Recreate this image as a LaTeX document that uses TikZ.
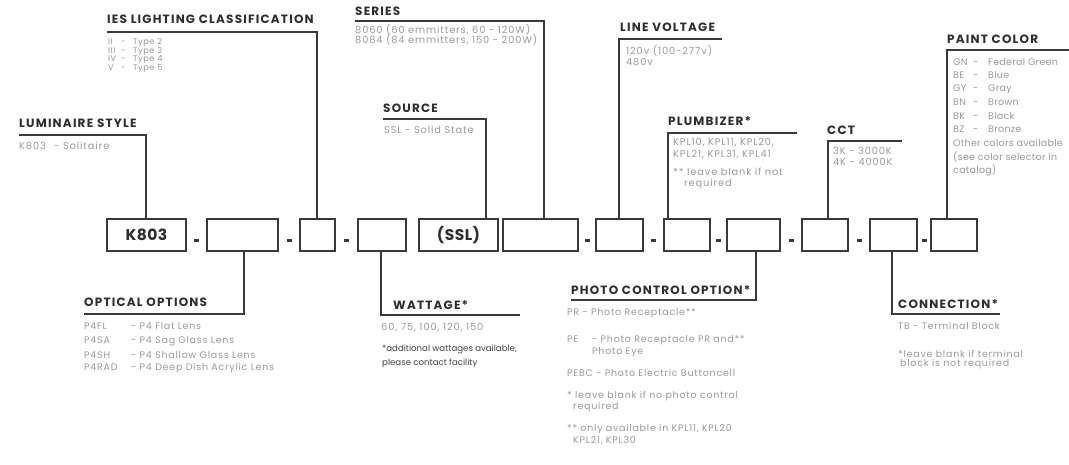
\documentclass[tikz,border=0pt]{standalone}
\usepackage{fontspec}
\setmainfont{Poppins}
\definecolor{tc}{HTML}{2E2E2E}
\definecolor{bc}{HTML}{9A9A9A}
\definecolor{fc}{HTML}{444444}
\definecolor{lc}{HTML}{3A3A3A}
\newcommand{\cd}[3]{\makebox[#1][l]{#2}#3}
\begin{document}
\begin{tikzpicture}[x=1pt,y=-1pt,
  ttl/.style={font=\fontsize{12}{14}\selectfont\bfseries\addfontfeatures{LetterSpace=10}, text=tc, anchor=west, inner sep=0},
  txt/.style={font=\fontsize{9.8}{11}\selectfont\addfontfeatures{LetterSpace=9}, text=bc, anchor=west, inner sep=0},
  txtp/.style={font=\fontsize{9.5}{11}\selectfont\addfontfeatures{LetterSpace=3}, text=bc, anchor=west, inner sep=0},
  txtb/.style={font=\fontsize{9.5}{10}\selectfont\addfontfeatures{LetterSpace=8}, text=bc, anchor=west, inner sep=0},
  txts/.style={font=\fontsize{8.3}{9}\selectfont\addfontfeatures{LetterSpace=6}, text=bc, anchor=west, inner sep=0},
  fnote/.style={font=\fontsize{8.6}{10}\selectfont, text=fc, anchor=west, inner sep=0},
  cell/.style={draw=lc, line width=1.3pt, minimum height=32pt, inner sep=0, font=\fontsize{15.5}{17}\selectfont\bfseries\addfontfeatures{LetterSpace=3}, text=tc},
  ln/.style={draw=lc, line width=1.2pt},
  dsh/.style={fill=lc, minimum width=5pt, minimum height=3pt, inner sep=0}
]
\useasboundingbox (0,0) rectangle (1069,465);
% main row
\node[cell, minimum width=79pt] (b1) at (146.5,235) {K803};
\node[cell, minimum width=71pt] (b2) at (242.5,235) {};
\node[cell, minimum width=35pt] (b3) at (317.5,235) {};
\node[cell, minimum width=48pt] (b4) at (382,235) {};
\node[cell, minimum width=79pt] (b5) at (458.5,235) {(SSL)};
\node[cell, minimum width=75pt] (b6) at (540.5,235) {};
\node[cell, minimum width=47pt] (b7) at (619.5,235) {};
\node[cell, minimum width=46pt] (b8) at (687,235) {};
\node[cell, minimum width=53pt] (b9) at (753.5,235) {};
\node[cell, minimum width=46pt] (b10) at (825,235) {};
\node[cell, minimum width=47pt] (b11) at (893.5,235) {};
\node[cell, minimum width=46pt] (b12) at (954,235) {};
\node[dsh] (d1) at (196.5,241) {};
\node[dsh] (d2) at (289,241) {};
\node[dsh] (d3) at (346.5,241) {};
\node[dsh] (d4) at (587,241) {};
\node[dsh] (d5) at (653.5,241) {};
\node[dsh] (d6) at (718.5,241) {};
\node[dsh] (d7) at (791,241) {};
\node[dsh] (d8) at (859,241) {};
\node[dsh] (d9) at (924,241) {};

% LUMINAIRE STYLE
\node[ttl] (tlum) at (19,123) {LUMINAIRE STYLE};
\coordinate (lumC) at (146,135); \coordinate (lumL) at (19,135);
\draw[ln] (b1.north -| lumC) -- (lumC) -- (lumL);
\node[txt] (xlum) at (19,146) {\cd{35pt}{K803}{- Solitaire}};

% IES
\node[ttl] (ties) at (107,19) {IES LIGHTING CLASSIFICATION};
\coordinate (iesC) at (317,32); \coordinate (iesL) at (107,32);
\draw[ln] (b3.north -| iesC) -- (iesC) -- (iesL);
\node[txts] (xies1) at (108,43) {\cd{13pt}{II}{\cd{12pt}{-}{Type 2}}};
\node[txts] (xies2) at (108,51.5) {\cd{13pt}{III}{\cd{12pt}{-}{Type 3}}};
\node[txts] (xies3) at (108,60) {\cd{13pt}{IV}{\cd{12pt}{-}{Type 4}}};
\node[txts] (xies4) at (108,68.5) {\cd{13pt}{V}{\cd{12pt}{-}{Type 5}}};

% SERIES
\node[ttl] (tser) at (355,11) {SERIES};
\coordinate (serC) at (544,21); \coordinate (serL) at (355,21);
\draw[ln] (b6.north -| serC) -- (serC) -- (serL);
\node[txt] (xser1) at (355,30) {8060 (60 emmitters, 60 - 120W)};
\node[txt] (xser2) at (355,40) {8084 (84 emmitters, 150 - 200W)};

% SOURCE
\node[ttl] (tsrc) at (383,108) {SOURCE};
\coordinate (srcC) at (486,119); \coordinate (srcL) at (383,119);
\draw[ln] (b5.north -| srcC) -- (srcC) -- (srcL);
\node[txt] (xsrc) at (384,130) {SSL - Solid State};

% LINE VOLTAGE
\node[ttl] (tlv) at (620,27) {LINE VOLTAGE};
\coordinate (lvC) at (619,39); \coordinate (lvR) at (722,39);
\draw[ln] (b7.north -| lvC) -- (lvC) -- (lvR);
\node[txt] (xlv1) at (626,51) {120v (100-277v)};
\node[txt] (xlv2) at (626,62) {480v};

% PLUMBIZER
\node[ttl] (tplu) at (668,121) {PLUMBIZER*};
\coordinate (pluC) at (668,133); \coordinate (pluR) at (797,133);
\draw[ln] (b8.north -| pluC) -- (pluC) -- (pluR);
\node[txt] (xplu1) at (673,143) {KPL10, KPL11, KPL20,};
\node[txt] (xplu2) at (673,155) {KPL21, KPL31, KPL41};
\node[txt] (xplu3) at (673,172) {** leave blank if not};
\node[txt] (xplu4) at (684,184) {required};

% CCT
\node[ttl] (tcct) at (827,130) {CCT};
\coordinate (cctC) at (828,141); \coordinate (cctR) at (902,141);
\draw[ln] (b10.north -| cctC) -- (cctC) -- (cctR);
\node[txt] (xcct1) at (833,151) {3K - 3000K};
\node[txt] (xcct2) at (833,162) {4K - 4000K};

% PAINT COLOR
\node[ttl] (tpc) at (947,39) {PAINT COLOR};
\coordinate (pcC) at (947,50); \coordinate (pcR) at (1069,50);
\draw[ln] (b12.north -| pcC) -- (pcC) -- (pcR);
\node[txtp] (xpc1) at (953,62) {\cd{20pt}{GN}{\cd{15pt}{-}{Federal Green}}};
\node[txtp] (xpc2) at (953,75.5) {\cd{20pt}{BE}{\cd{15pt}{-}{Blue}}};
\node[txtp] (xpc3) at (953,89) {\cd{20pt}{GY}{\cd{15pt}{-}{Gray}}};
\node[txtp] (xpc4) at (953,102.5) {\cd{20pt}{BN}{\cd{15pt}{-}{Brown}}};
\node[txtp] (xpc5) at (953,116) {\cd{20pt}{BK}{\cd{15pt}{-}{Black}}};
\node[txtp] (xpc6) at (953,129.5) {\cd{20pt}{BZ}{\cd{15pt}{-}{Bronze}}};
\node[txtp] (xpc7) at (953,143) {Other colors available};
\node[txtp] (xpc8) at (953,156.5) {(see color selector in};
\node[txtp] (xpc9) at (953,170) {catalog)};

% OPTICAL OPTIONS
\node[ttl] (topt) at (84,302) {OPTICAL OPTIONS};
\coordinate (optC) at (244,314); \coordinate (optL) at (84,314);
\draw[ln] (b2.south -| optC) -- (optC) -- (optL);
\node[txtb] (xopt1) at (84,326) {\cd{47pt}{P4FL}{- P4 Flat Lens}};
\node[txtb] (xopt2) at (84,341) {\cd{47pt}{P4SA}{- P4 Sag Glass Lens}};
\node[txtb] (xopt3) at (84,355) {\cd{47pt}{P4SH}{- P4 Shallow Glass Lens}};
\node[txtb] (xopt4) at (84,368.5) {\cd{47pt}{P4RAD}{- P4 Deep Dish Acrylic Lens}};

% WATTAGE
\node[ttl] (twat) at (393,305) {WATTAGE*};
\coordinate (watC) at (381,315); \coordinate (watR) at (520,315);
\draw[ln] (b4.south -| watC) -- (watC) -- (watR);
\node[txt] (xwat1) at (381,327.5) {60, 75, 100, 120, 150};
\node[fnote] (xwat2) at (382,349) {*additional wattages available,};
\node[fnote] (xwat3) at (382,363) {please contact facility};

% PHOTO CONTROL OPTION
\node[ttl] (tpho) at (571,290) {PHOTO CONTROL OPTION*};
\coordinate (phoC) at (756,300); \coordinate (phoL) at (571,300);
\draw[ln] (b9.south -| phoC) -- (phoC) -- (phoL);
\node[txtb] (xpho1) at (567,313) {PR - Photo Receptacle**};
\node[txtb] (xpho2) at (567,340) {\cd{25pt}{PE}{- Photo Receptacle PR and**}};
\node[txtb] (xpho3) at (592,352) {Photo Eye};
\node[txtb] (xpho4) at (567,373) {PEBC - Photo Electric Buttoncell};
\node[txtb] (xpho5) at (567,396) {* leave blank if no photo control};
\node[txtb] (xpho6) at (573,407) {required};
\node[txtb] (xpho7) at (567,429) {** only available in KPL11, KPL20};
\node[txtb] (xpho8) at (573,441) {KPL21, KPL30};

% CONNECTION
\node[ttl] (tcon) at (898,304) {CONNECTION*};
\coordinate (conC) at (892,314); \coordinate (conR) at (1000,314);
\draw[ln] (b11.south -| conC) -- (conC) -- (conR);
\node[txtb] (xcon1) at (898,325.5) {TB - Terminal Block};
\node[txtb] (xcon2) at (898,353.5) {*leave blank if terminal};
\node[txtb] (xcon3) at (900,364) {block is not required};
\end{tikzpicture}
\end{document}
